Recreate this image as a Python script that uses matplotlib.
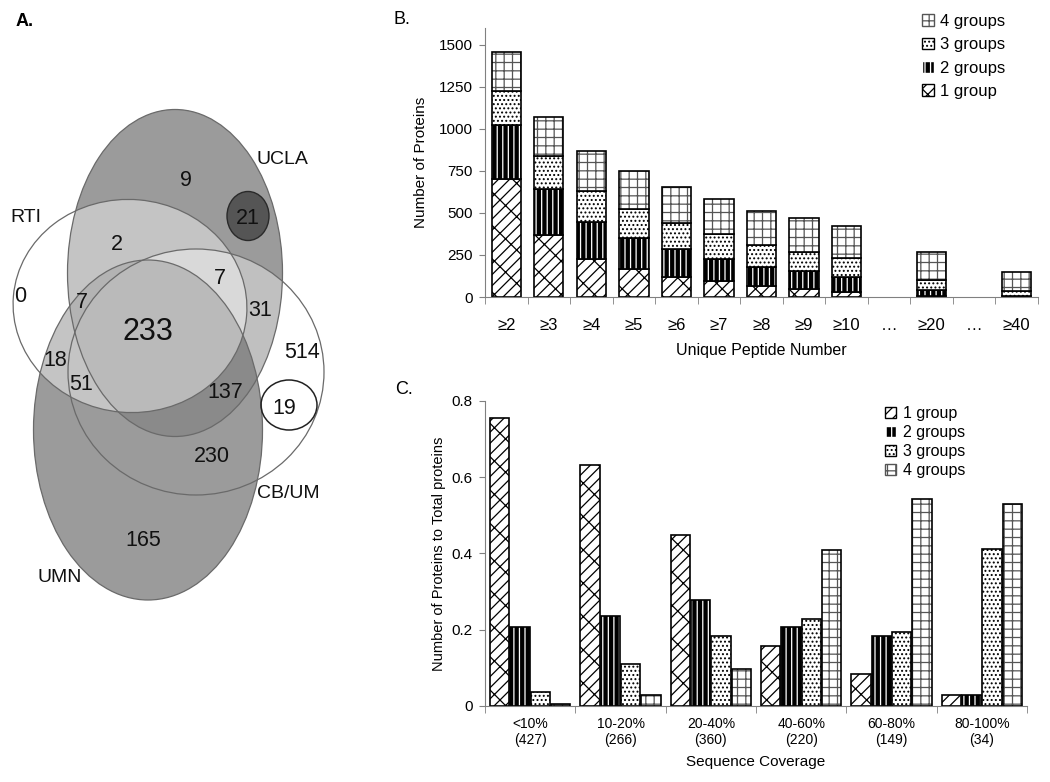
import matplotlib
matplotlib.use("Agg")
import matplotlib.pyplot as plt
from matplotlib.patches import Ellipse, Patch
import numpy as np

plt.rcParams["font.family"] = ["Liberation Sans", "DejaVu Sans"]
plt.rcParams["hatch.linewidth"] = 0.9

# ---------------- panel A: Venn counts ----------------
venn_sets = ["UCLA", "RTI", "CB/UM", "UMN"]
venn_counts = [9, 21, 2, 0, 7, 7, 31, 233, 514, 18, 51, 137, 19, 230, 165]

# ---------------- panel B: stacked bars ----------------
peptide_ticks = ["≥2", "≥3", "≥4", "≥5", "≥6", "≥7", "≥8", "≥9", "≥10", "…", "≥20", "…", "≥40"]
peptide_cats = ["≥2", "≥3", "≥4", "≥5", "≥6", "≥7", "≥8", "≥9", "≥10", "≥20", "≥40"]
b_1group = [700, 369, 224, 166, 120, 96, 63, 50, 31, 4, 3]
b_2groups = [322, 271, 221, 184, 163, 129, 115, 103, 86, 36, 5]
b_3groups = [205, 197, 187, 172, 155, 148, 133, 117, 114, 62, 25]
b_4groups = [233, 231, 234, 225, 214, 208, 201, 198, 193, 166, 115]

# ---------------- panel C: grouped bars ----------------
coverage_cats = ["<10%\n(427)", "10-20%\n(266)", "20-40%\n(360)",
                 "40-60%\n(220)", "60-80%\n(149)", "80-100%\n(34)"]
c_1group = [0.756, 0.633, 0.449, 0.158, 0.082, 0.029]
c_2groups = [0.207, 0.235, 0.277, 0.207, 0.183, 0.029]
c_3groups = [0.037, 0.109, 0.183, 0.228, 0.194, 0.412]
c_4groups = [0.005, 0.027, 0.097, 0.409, 0.544, 0.529]

group_names = ["1 group", "2 groups", "3 groups", "4 groups"]
# face, hatch, hatch colour
styles = [("white", "///\\", "black"),
          ("black", "|||", "white"),
          ("white", "....", "black"),
          ("white", "++", "#555555")]

W, H = 1050, 782
fig = plt.figure(figsize=(W / 100, H / 100), dpi=100)


def hbar(ax, x, h, width, bottom, st):
    fc, hatch, hc = st
    ax.bar(x, h, width, bottom=bottom, color=fc, edgecolor=hc, hatch=hatch, linewidth=0)
    ax.bar(x, h, width, bottom=bottom, fill=False, edgecolor="black", linewidth=1.2)


def style_axes(ax):
    for s in ["top", "right"]:
        ax.spines[s].set_visible(False)
    for s in ["left", "bottom"]:
        ax.spines[s].set_color("#808080")
    ax.tick_params(axis="y", direction="out", length=4, color="#808080", labelsize=11, pad=5)


def px_box(l, t, r, b):
    return [l / W, 1 - b / H, (r - l) / W, (b - t) / H]


# ---------------- panel A ----------------
axA = fig.add_axes([0, 0, 380 / W, 1])
axA.set_xlim(0, 380)
axA.set_ylim(H, 0)
axA.axis("off")

# layout of the four sets (centre x, centre y, width, height, angle)
shapes = {
    "UCLA": (175, 273, 215, 327, 0),
    "RTI": (130, 306, 234, 213, 5),
    "CB/UM": (196, 372, 256, 246, 0),
    "UMN": (148, 430, 229, 340, 0),
}
fills = {"UCLA": ("#9b9b9b", 1.0), "CB/UM": ("white", 0.38),
         "UMN": ("#757575", 0.72), "RTI": ("white", 0.41)}
for name in ["UCLA", "CB/UM", "UMN", "RTI"]:
    cx, cy, w, h, ang = shapes[name]
    fc, al = fills[name]
    axA.add_patch(Ellipse((cx, cy), w, h, angle=ang, facecolor=fc, alpha=al, edgecolor="none"))
for name in venn_sets:
    cx, cy, w, h, ang = shapes[name]
    axA.add_patch(Ellipse((cx, cy), w, h, angle=ang, fill=False, edgecolor="#6a6a6a", linewidth=0.9))
axA.add_patch(Ellipse((248, 216), 42, 49, facecolor="#555555", edgecolor="#2a2a2a", linewidth=1))
axA.add_patch(Ellipse((289, 405), 56, 50, fill=False, edgecolor="#222222", linewidth=1.1))

count_pos = [(186, 180), (248, 219), (117, 245), (20, 296), (82, 303), (220, 278), (260, 311),
             (148, 332), (302, 352), (55, 360), (81, 385), (225, 393), (284, 409), (212, 456), (143, 540)]
narrow = ["Liberation Sans Narrow", "Liberation Sans", "DejaVu Sans"]
for val, (x, y) in zip(venn_counts, count_pos):
    axA.text(x, y, str(val), ha="center", va="center", family=narrow,
             fontsize=22 if val == 233 else 15.5, color="#111111")
label_pos = {"UCLA": (282, 159), "RTI": (26, 217), "CB/UM": (288, 494), "UMN": (60, 578)}
for name in venn_sets:
    x, y = label_pos[name]
    axA.text(x, y, name, ha="center", va="center", family=narrow, fontsize=14, color="#111111")

fig.text(25 / W, 1 - 21 / H, "A.", ha="center", va="center", fontsize=13, weight="bold")
fig.text(402 / W, 1 - 20 / H, "B.", ha="center", va="center", fontsize=13)
fig.text(404 / W, 1 - 390 / H, "C.", ha="center", va="center", fontsize=13)

# ---------------- panel B ----------------
axB = fig.add_axes(px_box(485, 28, 1038, 297))
style_axes(axB)
xpos = np.array([peptide_ticks.index(c) for c in peptide_cats])
bottom = np.zeros(len(peptide_cats))
for vals, st in zip([b_1group, b_2groups, b_3groups, b_4groups], styles):
    hbar(axB, xpos, vals, 0.69, bottom, st)
    bottom += np.array(vals)
axB.set_xlim(-0.5, len(peptide_ticks) - 0.5)
axB.set_ylim(0, 1600)
axB.set_yticks(range(0, 1501, 250))
axB.set_xticks(range(len(peptide_ticks)))
axB.set_xticklabels(peptide_ticks, fontsize=12)
axB.set_xticks(np.arange(-0.5, len(peptide_ticks)), minor=True)
axB.tick_params(axis="x", which="major", length=0, pad=15)
axB.tick_params(axis="x", which="minor", length=5, color="#808080", direction="out")
axB.set_ylabel("Number of Proteins", fontsize=11)
axB.yaxis.set_label_coords(-0.103, 0.5)
axB.set_xlabel("Unique Peptide Number", fontsize=11.5)
axB.xaxis.set_label_coords(0.5, -0.171)
handles = [Patch(facecolor=st[0], edgecolor=st[2], hatch=st[1]) for st in styles]
axB.legend(handles[::-1], group_names[::-1], loc="upper left", frameon=False,
           bbox_to_anchor=(922 / W, 1 - 14 / H), bbox_transform=fig.transFigure,
           fontsize=12, handlelength=0.7, handleheight=0.7, handletextpad=0.4,
           labelspacing=0.5, borderpad=0, borderaxespad=0)

# ---------------- panel C ----------------
axC = fig.add_axes(px_box(485, 401, 1027, 705.7))
style_axes(axC)
xc = np.arange(len(coverage_cats))
for k, (vals, st) in enumerate(zip([c_1group, c_2groups, c_3groups, c_4groups], styles)):
    hbar(axC, xc + (k - 1.5) * 0.225, vals, 0.215, 0, st)
axC.set_xlim(-0.5, len(coverage_cats) - 0.5)
axC.set_ylim(0, 0.8)
axC.set_yticks([0, 0.2, 0.4, 0.6, 0.8])
axC.set_yticklabels(["0", "0.2", "0.4", "0.6", "0.8"])
axC.set_xticks(xc)
axC.set_xticklabels(coverage_cats, fontsize=10)
axC.set_xticks(np.arange(-0.5, len(coverage_cats)), minor=True)
axC.tick_params(axis="x", which="major", length=0, pad=8)
axC.tick_params(axis="x", which="minor", length=5, color="#808080", direction="out")
axC.set_ylabel("Number of Proteins to Total proteins", fontsize=10.5)
axC.yaxis.set_label_coords(-0.072, 0.5)
axC.set_xlabel("Sequence Coverage", fontsize=11)
axC.xaxis.set_label_coords(0.5, -0.162)
axC.legend(handles, group_names, loc="upper left", frameon=False,
           bbox_to_anchor=(885 / W, 1 - 406 / H), bbox_transform=fig.transFigure,
           fontsize=11.5, handlelength=0.7, handleheight=0.7, handletextpad=0.4,
           labelspacing=0.26, borderpad=0, borderaxespad=0)

fig.savefig("out.png", dpi=100)
